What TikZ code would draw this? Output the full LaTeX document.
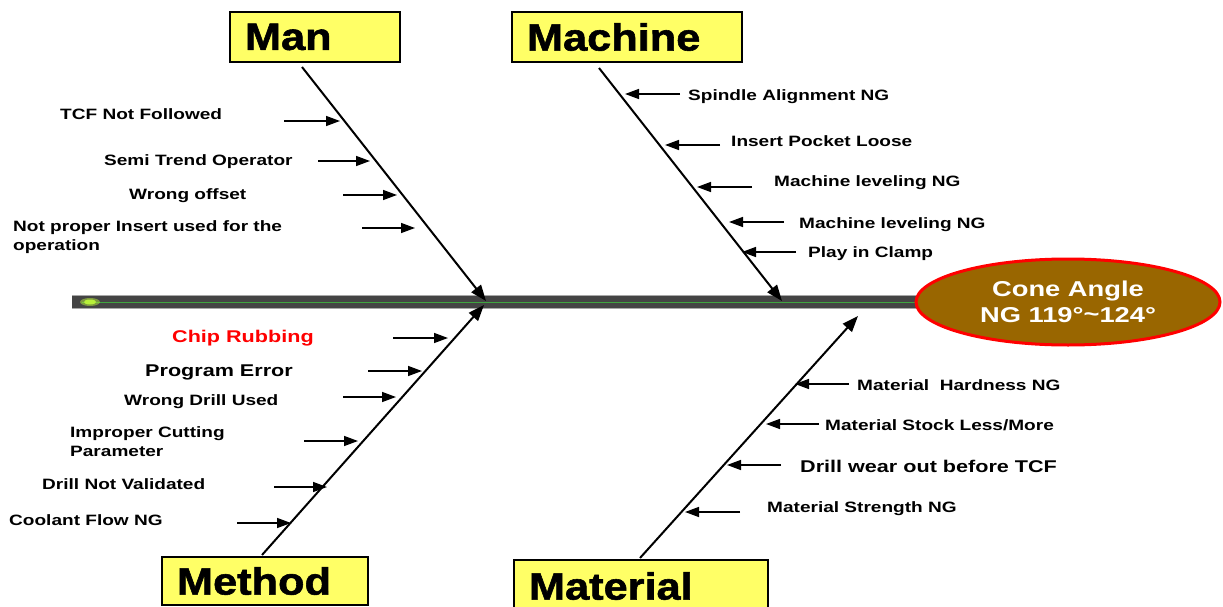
\documentclass[tikz,border=0pt]{standalone}
\usepackage{fontspec}
\setmainfont{Liberation Sans}
\newfontfamily\causefont{Liberation Sans}[UprightFont=* Bold, FakeStretch=1.27]
\newfontfamily\boxfont{Liberation Sans}[UprightFont=* Bold, FakeStretch=1.14, FakeBold=1.5]
\usetikzlibrary{shapes.geometric,arrows.meta}
\definecolor{boxyellow}{HTML}{FFFF66}
\definecolor{headbrown}{HTML}{996600}
\definecolor{spinegray}{HTML}{444444}
\definecolor{spineedge}{HTML}{A8A8A8}
\definecolor{spinegreen}{HTML}{3FA53F}
\definecolor{glow}{HTML}{B8F03A}
\tikzset{
  catbox/.style={draw=black, line width=1.2pt, fill=boxyellow, inner xsep=15pt, inner ysep=0pt,
    align=left, minimum height=50pt, font=\boxfont\fontsize{38}{40}\selectfont},
  cause/.style={inner sep=0pt, align=left, font=\causefont\fontsize{15}{19}\selectfont},
  causebig/.style={cause, font=\causefont\fontsize{17}{20}\selectfont},
  bone/.style={line width=2pt, -{Triangle[length=16pt,width=12pt]}},
  carrow/.style={line width=1.4pt, -{Triangle[length=14pt,width=10pt]}},
}
\begin{document}
\begin{tikzpicture}[x=1pt,y=-1pt]
\useasboundingbox (0,0) rectangle (1223,607);
% spine
\coordinate (tail) at (72,302);
\coordinate (head) at (916,302);
\fill[spineedge] ([yshift=-7pt]tail) rectangle ([yshift=7pt]head);
\fill[spinegray] ([yshift=-6pt]tail) rectangle ([yshift=6pt]head);
\draw[spinegreen, line width=0.8pt] ([xshift=10pt]tail) -- (head);
\fill[glow, opacity=0.5] (90,302) ellipse (10pt and 4pt);
\fill[glow] (90,302) ellipse (6pt and 2.5pt);
% head
\node[ellipse, draw=red, line width=3pt, fill=headbrown, minimum width=304pt, minimum height=86pt,
  inner sep=0pt, align=center, text=white, font=\causefont\fontsize{21.5}{26}\selectfont]
  (effect) at (1068,302) {Cone Angle\\NG 119°\raisebox{1pt}{\textasciitilde}124°};
% category boxes
\node[catbox, text width=140pt] (man) at (315,37) {Man};
\node[catbox, text width=200pt] (machine) at (627,37) {Machine};
\node[catbox, text width=176pt, minimum height=48pt] (method) at (265,581) {Method};
\node[catbox, text width=224pt, minimum height=52pt] (material) at (641,586) {Material};
% bones
\coordinate (manS) at (302,67);   \coordinate (manE) at (486,301);
\coordinate (macS) at (599,68);   \coordinate (macE) at (782,301);
\coordinate (metS) at (262,555);  \coordinate (metE) at (484,305);
\coordinate (matS) at (640,558);  \coordinate (matE) at (858,316);
\draw[bone] (manS) -- (manE);
\draw[bone] (macS) -- (macE);
\draw[bone] (metS) -- (metE);
\draw[bone] (matS) -- (matE);
% Man causes
\node[cause, anchor=west] (a1) at (60,114) {TCF Not Followed};
\node[cause, anchor=west] (a2) at (104,162) {Semi Trend Operator};
\node[cause, anchor=west] (a3) at (129,196) {Wrong offset};
\node[cause, anchor=west] (a4) at (13,237) {Not proper Insert used for the\\operation};
\coordinate (a1s) at (284,121); \coordinate (a1e) at (340,121);
\coordinate (a2s) at (318,161); \coordinate (a2e) at (370,161);
\coordinate (a3s) at (343,195); \coordinate (a3e) at (397,195);
\coordinate (a4s) at (362,228); \coordinate (a4e) at (415,228);
\foreach \i in {1,...,4} \draw[carrow] (a\i s) -- (a\i e);
% Machine causes
\node[cause, anchor=west] (b1) at (688,97) {Spindle Alignment NG};
\node[cause, anchor=west] (b2) at (731,141) {Insert Pocket Loose};
\node[cause, anchor=west] (b3) at (774,183) {Machine leveling NG};
\node[cause, anchor=west] (b4) at (799,225) {Machine leveling NG};
\node[cause, anchor=west] (b5) at (808,254) {Play in Clamp};
\coordinate (b1s) at (680,94);  \coordinate (b1e) at (625,94);
\coordinate (b2s) at (720,145); \coordinate (b2e) at (665,145);
\coordinate (b3s) at (752,187); \coordinate (b3e) at (697,187);
\coordinate (b4s) at (784,222); \coordinate (b4e) at (729,222);
\coordinate (b5s) at (796,252); \coordinate (b5e) at (742,252);
\foreach \i in {1,...,5} \draw[carrow] (b\i s) -- (b\i e);
% Method causes
\node[causebig, anchor=west, text=red] (c1) at (172,338) {Chip Rubbing};
\node[causebig, anchor=west] (c2) at (145,372) {Program  Error};
\node[cause, anchor=west] (c3) at (124,402) {Wrong Drill Used};
\node[cause, anchor=west] (c4) at (70,442) {Improper Cutting\\Parameter};
\node[cause, anchor=west] (c5) at (42,484) {Drill Not Validated};
\node[cause, anchor=west] (c6) at (9,520) {Coolant Flow NG};
\coordinate (c1s) at (393,338); \coordinate (c1e) at (448,338);
\coordinate (c2s) at (368,371); \coordinate (c2e) at (422,371);
\coordinate (c3s) at (343,397); \coordinate (c3e) at (396,397);
\coordinate (c4s) at (304,441); \coordinate (c4e) at (358,441);
\coordinate (c5s) at (274,487); \coordinate (c5e) at (327,487);
\coordinate (c6s) at (237,523); \coordinate (c6e) at (291,523);
\foreach \i in {1,...,6} \draw[carrow] (c\i s) -- (c\i e);
% Material causes
\node[cause, anchor=west] (d1) at (857,385) {Material \ Hardness NG};
\node[cause, anchor=west] (d2) at (825,425) {Material Stock Less/More};
\node[causebig, anchor=west] (d3) at (800,466) {Drill wear out before TCF};
\node[cause, anchor=west] (d4) at (767,509) {Material Strength NG};
\coordinate (d1s) at (849,384); \coordinate (d1e) at (795,384);
\coordinate (d2s) at (819,424); \coordinate (d2e) at (766,424);
\coordinate (d3s) at (781,465); \coordinate (d3e) at (727,465);
\coordinate (d4s) at (740,512); \coordinate (d4e) at (685,512);
\foreach \i in {1,...,4} \draw[carrow] (d\i s) -- (d\i e);
\end{tikzpicture}
\end{document}
